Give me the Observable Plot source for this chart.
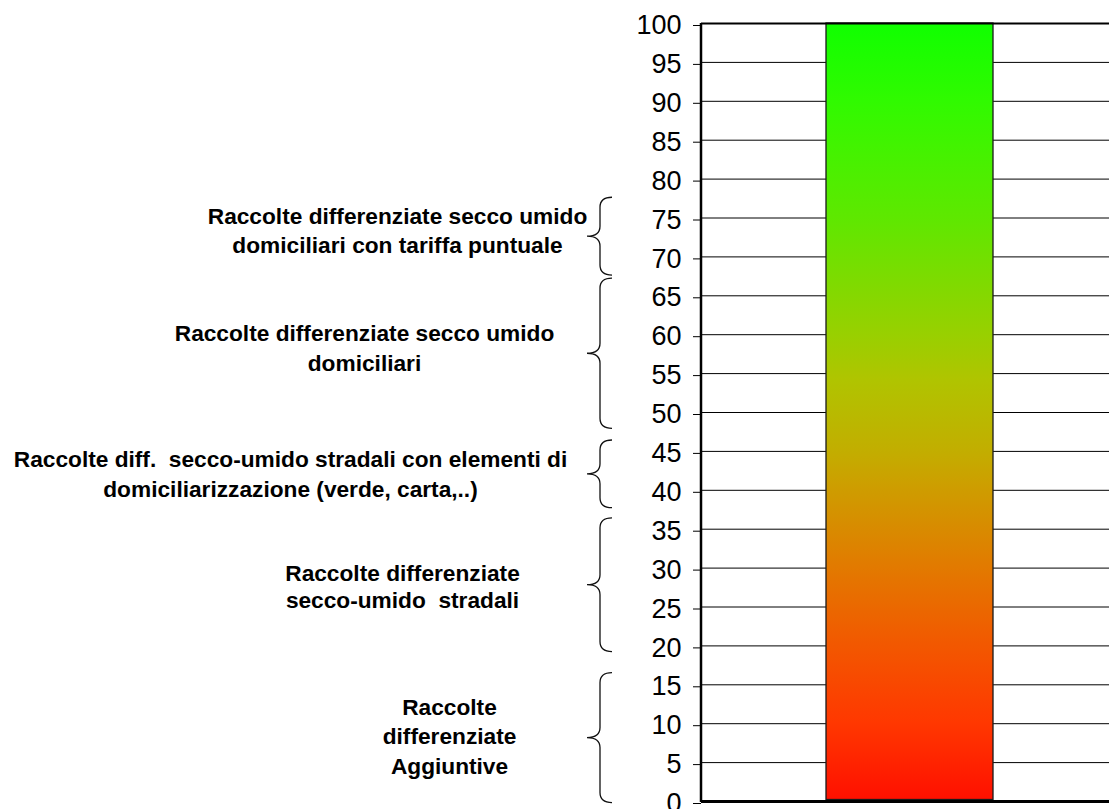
<!DOCTYPE html>
<html>
<head>
<meta charset="utf-8">
<script src="https://cdn.jsdelivr.net/npm/d3@7"></script>
<script src="https://cdn.jsdelivr.net/npm/@observablehq/plot@0.6"></script>
<style>
  html, body { margin: 0; padding: 0; background: #ffffff; }
  #chart svg text { white-space: pre; }
</style>
</head>
<body>
<div id="chart"></div>
<script>
// ---- data ----
const categories = ["Raccolta differenziata"];
const values = [100];
const yTicks = [0, 5, 10, 15, 20, 25, 30, 35, 40, 45, 50, 55, 60, 65, 70, 75, 80, 85, 90, 95, 100];

const labels = [
  "Raccolte differenziate secco umido\ndomiciliari con tariffa puntuale",
  "Raccolte differenziate secco umido\ndomiciliari",
  "Raccolte diff.  secco-umido stradali con elementi di\ndomiciliarizzazione (verde, carta,..)",
  "Raccolte differenziate\nsecco-umido  stradali",
  "Raccolte\ndifferenziate\nAggiuntive"
];
const labelCenters = [73.6, 58.5, 42.3, 27.7, 8.6];
const bracketStart = [77.6, 67.2, 46.4, 36.4, 16.5];
const bracketEnd   = [67.6, 47.9, 37.7, 19.2, -0.2];

// ---- layout / style (not data) ----
const labelDx = [-304, -337, -411, -299, -252];
const labelLineHeight = [1.32, 1.32, 1.33, 1.19, 1.3];
const gradientStops = [
  [0.00, "#10ff00"], [0.10, "#30fa00"], [0.25, "#5ee800"], [0.40, "#98d000"],
  [0.46, "#b0c400"], [0.55, "#c2ae00"], [0.59, "#cca000"], [0.70, "#e27a00"],
  [0.80, "#f25800"], [0.90, "#ff3800"], [1.00, "#ff1000"]
];
const ns = "http://www.w3.org/2000/svg";

function gradientDefs() {
  const defs = document.createElementNS(ns, "defs");
  const grad = document.createElementNS(ns, "linearGradient");
  grad.setAttribute("id", "barGrad");
  grad.setAttribute("x1", "0"); grad.setAttribute("y1", "0");
  grad.setAttribute("x2", "0"); grad.setAttribute("y2", "1");
  for (const [o, c] of gradientStops) {
    const stop = document.createElementNS(ns, "stop");
    stop.setAttribute("offset", o);
    stop.setAttribute("stop-color", c);
    grad.appendChild(stop);
  }
  defs.appendChild(grad);
  return defs;
}

function bracketMark(index, scales, vals, dimensions) {
  const g = document.createElementNS(ns, "g");
  const xs = dimensions.marginLeft - 101; // stem
  const xe = xs + 12;                     // curl end
  const xt = xs - 13;                     // tip
  const r = 10;
  bracketStart.forEach((s, i) => {
    const y1 = scales.y(s), y2 = scales.y(bracketEnd[i]), ym = (y1 + y2) / 2;
    const p = document.createElementNS(ns, "path");
    p.setAttribute("d",
      `M${xe},${y1} Q${xs},${y1} ${xs},${y1 + r} L${xs},${ym - r} Q${xs},${ym} ${xt},${ym} ` +
      `Q${xs},${ym} ${xs},${ym + r} L${xs},${y2 - r} Q${xs},${y2} ${xe},${y2}`);
    p.setAttribute("fill", "none");
    p.setAttribute("stroke", "#111");
    p.setAttribute("stroke-width", "1.3");
    g.appendChild(p);
  });
  return g;
}

function axisLine(index, scales, vals, dimensions) {
  const l = document.createElementNS(ns, "line");
  const x = dimensions.marginLeft;
  l.setAttribute("x1", x); l.setAttribute("x2", x);
  l.setAttribute("y1", scales.y(0) + 1); l.setAttribute("y2", scales.y(100));
  l.setAttribute("stroke", "#000");
  l.setAttribute("stroke-width", "2.5");
  return l;
}

const barData = categories.map((c, i) => ({category: c, value: values[i]}));

const labelMarks = labels.map((t, i) =>
  Plot.text([{text: t, y: labelCenters[i]}], {
    y: "y", text: "text", frameAnchor: "left", dx: labelDx[i],
    textAnchor: "middle", lineAnchor: "middle", lineHeight: labelLineHeight[i],
    fontSize: 22.7, fontWeight: "bold", fill: "#000"
  })
);

const chart = Plot.plot({
  width: 1109,
  height: 809,
  marginLeft: 701,
  marginRight: 0,
  marginTop: 23,
  marginBottom: 8,
  style: {fontFamily: "'Liberation Sans', Arial, sans-serif", background: "#ffffff", color: "#000", overflow: "visible"},
  x: {domain: categories, padding: 0.417, align: 0.52, axis: null},
  y: {domain: [0, 100], axis: null},
  marks: [
    gradientDefs,
    Plot.gridY(yTicks, {stroke: "#000", strokeOpacity: 1, strokeWidth: 1}),
    Plot.barY(barData, {x: "category", y: "value", fill: "url(#barGrad)", stroke: "#1a1a1a", strokeWidth: 1.3, insetBottom: 1.5}),
    Plot.ruleY([100], {stroke: "#000", strokeWidth: 2}),
    Plot.ruleY([0], {stroke: "#000", strokeWidth: 3}),
    Plot.axisY(yTicks, {ticks: yTicks, tickSize: 8, tickPadding: 12, fontSize: 27, label: null, stroke: "#000", fill: "#000", dy: 2}),
    axisLine,
    bracketMark,
    ...labelMarks
  ]
});

document.getElementById("chart").appendChild(chart);
</script>
</body>
</html>
